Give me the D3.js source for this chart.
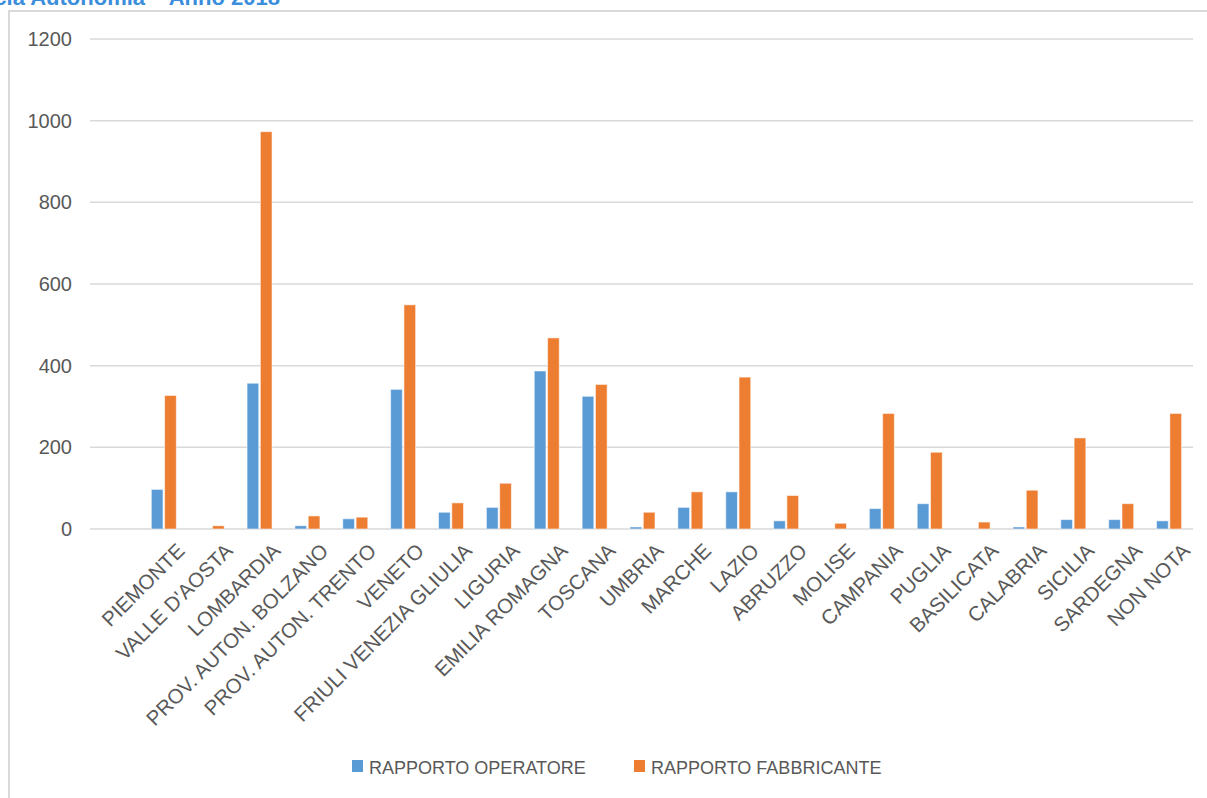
<!DOCTYPE html>
<html>
<head>
<meta charset="utf-8">
<script src="https://cdn.jsdelivr.net/npm/d3@7"></script>
<style>
  html, body { margin: 0; padding: 0; background: #fff; }
  svg { display: block; font-family: "Liberation Sans", Arial, sans-serif; }
</style>
</head>
<body>
<svg id="chart" width="1207" height="798"></svg>
<script>
const categories = ["", "PIEMONTE", "VALLE D'AOSTA", "LOMBARDIA", "PROV. AUTON. BOLZANO", "PROV. AUTON. TRENTO",
  "VENETO", "FRIULI VENEZIA GLIULIA", "LIGURIA", "EMILIA ROMAGNA", "TOSCANA", "UMBRIA", "MARCHE",
  "LAZIO", "ABRUZZO", "MOLISE", "CAMPANIA", "PUGLIA", "BASILICATA", "CALABRIA", "SICILIA", "SARDEGNA", "NON NOTA"];
const seriesNames = ["RAPPORTO OPERATORE", "RAPPORTO FABBRICANTE"];
const operatore =   [null, 97, 0, 357, 8, 25, 342, 41, 53, 387, 325, 5, 53, 91, 20, 0, 50, 62, 0, 5, 23, 23, 20];
const fabbricante = [null, 327, 8, 973, 32, 29, 549, 64, 112, 468, 354, 41, 91, 372, 82, 14, 283, 188, 17, 95, 223, 62, 283];
const yTicks = [0, 200, 400, 600, 800, 1000, 1200];
const colors = ["#5B9BD5", "#ED7D31"];
const titleText = "per Regione e Provincia Autonomia – Anno 2018";

(function () {
const svg = d3.select("#chart");
const mLeft = 90, mRight = 1193, mTop = 39, mBottom = 529;

// chart frame
svg.append("path").attr("d", `M9,798 L9,11 L1207,11`).attr("fill", "none")
  .attr("stroke", "#D9D9D9").attr("stroke-width", 2);

// cut-off title (the reference shows only its lower part)
svg.append("text").attr("x", 280).attr("y", 5).attr("text-anchor", "end")
  .attr("font-size", 22).attr("font-weight", "bold").attr("fill", "#3A8EDB").text(titleText);

const x = d3.scaleBand().domain(categories).range([mLeft + 2, mRight]).padding(0);
const y = d3.scaleLinear().domain([0, 1200]).range([mBottom, mTop]);
const x1 = d3.scaleBand().domain(seriesNames).range([-12.5, 12.5]).paddingInner(0.12);

// gridlines
svg.append("g").selectAll("line").data(yTicks).join("line")
  .attr("x1", mLeft).attr("x2", mRight)
  .attr("y1", d => y(d)).attr("y2", d => y(d))
  .attr("stroke", "#D9D9D9").attr("stroke-width", 1.5);

// y axis labels
const yAxis = d3.axisLeft(y).tickValues(yTicks).tickSize(0).tickPadding(0).tickFormat(d3.format("d"));
const gy = svg.append("g").attr("transform", `translate(72,0)`).call(yAxis);
gy.select(".domain").remove();
gy.selectAll("text").attr("font-size", 20).attr("fill", "#595959")
  .attr("font-family", "Liberation Sans, Arial, sans-serif");

// bars
const data = [operatore, fabbricante];
data.forEach((vals, si) => {
  svg.append("g").selectAll("rect")
    .data(categories.map((c, i) => ({c, v: vals[i]})).filter(d => d.v !== null && d.v > 0))
    .join("rect")
    .attr("x", d => x(d.c) + x.bandwidth() / 2 + x1(seriesNames[si]))
    .attr("width", x1.bandwidth())
    .attr("y", d => y(d.v))
    .attr("height", d => y(0) - y(d.v))
    .attr("fill", colors[si])
    .attr("stroke", "#ffffff").attr("stroke-opacity", 0.55).attr("stroke-width", 1);
});

// category labels
const gx = svg.append("g");
gx.selectAll("text").data(categories.filter(c => c !== "")).join("text")
  .attr("transform", d => `translate(${x(d) + x.bandwidth() / 2 + 12},${mBottom + 13}) rotate(-45)`)
  .attr("text-anchor", "end")
  .attr("dy", "0.7em")
  .attr("font-size", 20.5)
  .attr("fill", "#595959")
  .text(d => d);

// legend
const legendItems = [{name: seriesNames[0], x: 352}, {name: seriesNames[1], x: 634}];
const lg = svg.append("g");
legendItems.forEach((it, i) => {
  lg.append("rect").attr("x", it.x).attr("y", 760).attr("width", 11).attr("height", 12).attr("fill", colors[i]);
  lg.append("text").attr("x", it.x + 17).attr("y", 774).attr("font-size", 18)
    .attr("fill", "#595959").text(it.name);
});
})();
</script>
</body>
</html>
